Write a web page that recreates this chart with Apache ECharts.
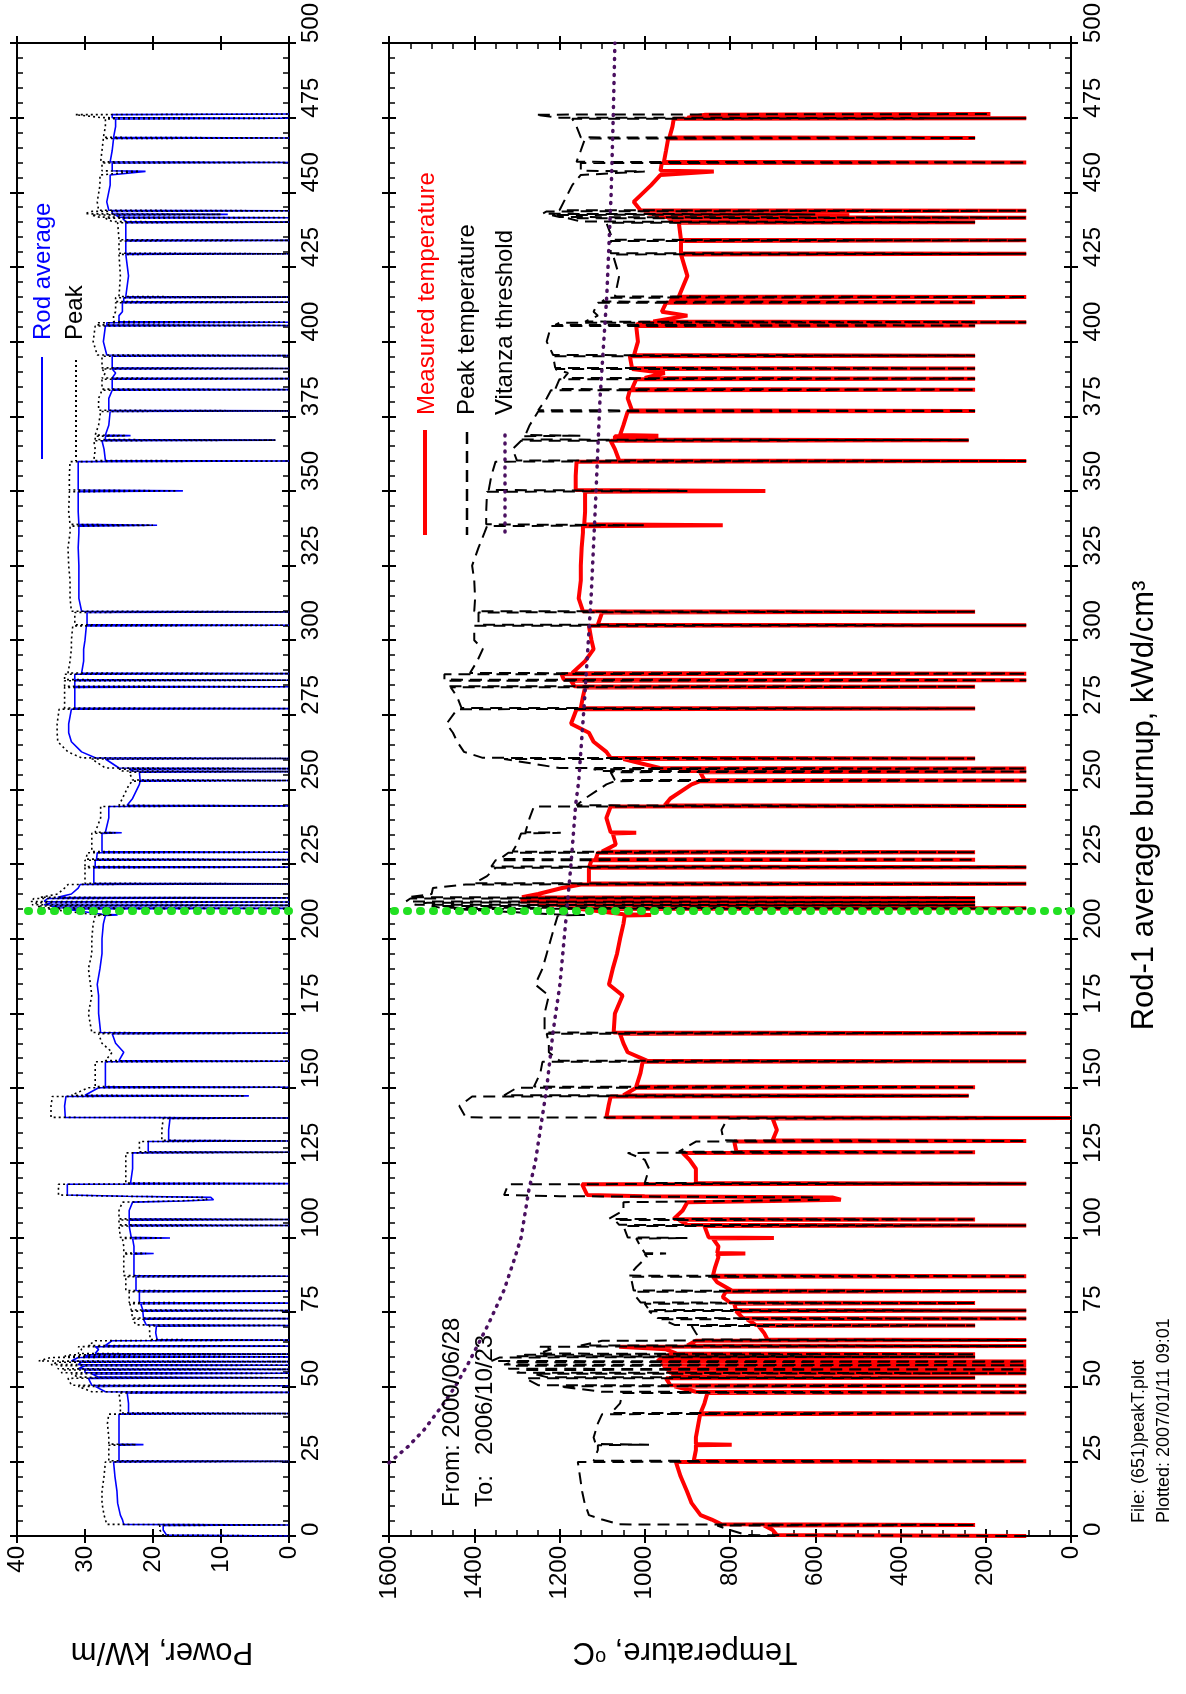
<!DOCTYPE html>
<html>
<head>
<meta charset="utf-8">
<script src="https://cdn.jsdelivr.net/npm/echarts@6/dist/echarts.min.js"></script>
<style>
html,body{margin:0;padding:0;background:#fff;}
#chart{width:1186px;height:1694px;}
</style>
</head>
<body>
<div id="chart"></div>
<script>
// ---- data (burnup in kWd/cm3) ----
const burnup = [
  0, 0.3, 2, 3.5, 3.7, 3.9, 5.5, 7, 11, 15,
  20, 24.8, 25, 25.2, 28.8, 30.4, 30.6, 30.8, 33, 37.7,
  40.8, 41, 41.2, 44.4, 47.9, 48.1, 48.3, 50.1, 50.3, 50.5,
  52.8, 53, 53.2, 54.3, 54.5, 54.7, 55.6, 55.8, 56, 57,
  57.2, 57.4, 58.2, 58.4, 58.6, 59.8, 60, 60.2, 60.7, 60.9,
  61.1, 62.5, 63.4, 63.6, 63.8, 65.4, 65.6, 65.8, 68, 70.3,
  70.5, 70.7, 72.6, 72.8, 73, 75.3, 75.5, 75.7, 77.8, 78,
  78.2, 80, 81.8, 82, 82.2, 85, 86.8, 87, 87.2, 90,
  93.5, 94.4, 94.6, 94.8, 97, 99.6, 99.8, 100, 103.8, 104,
  104.2, 105.8, 106, 106.2, 109, 111.8, 112.2, 112.6, 113.4, 113.8,
  114.2, 117.8, 118, 118.2, 123, 126, 128.3, 128.5, 128.7, 132.1,
  132.3, 132.5, 136, 139.8, 140, 140.2, 144, 147.2, 147.4, 147.6,
  150.1, 150.3, 150.5, 155, 158.8, 159, 159.2, 162, 165, 168.2,
  168.4, 168.6, 175, 181, 184.7, 190, 195, 200, 205, 207.8,
  208, 208.2, 210, 210.2, 210.4, 211, 211.2, 211.4, 212.1, 212.3,
  212.5, 213.5, 213.7, 213.9, 215, 217, 218.2, 218.4, 218.6, 221,
  223.8, 224, 224.2, 226.3, 226.5, 226.7, 228.8, 229, 229.2, 231.6,
  235.3, 235.5, 235.7, 240.5, 244.3, 244.5, 244.7, 247, 251.7, 252.8,
  253, 253.2, 255.8, 256, 256.2, 256.8, 257, 257.2, 260.2, 260.4,
  260.6, 262.6, 266, 269, 272, 276.9, 277.1, 277.3, 281, 284.2,
  284.4, 284.6, 286.4, 286.6, 286.8, 288.6, 288.8, 289, 293, 297,
  300, 304.8, 305, 305.2, 309.3, 309.5, 309.7, 314, 320, 325,
  331, 336, 338.2, 338.5, 338.8, 343, 349.7, 350, 350.3, 355,
  359.8, 360, 360.2, 364, 366.8, 367, 367.2, 368.3, 368.5, 368.7,
  372, 376.6, 376.8, 377, 381, 383.7, 383.9, 384.1, 387.4, 387.6,
  387.8, 389.5, 390.8, 391, 391.2, 395.1, 395.3, 395.5, 400, 405.2,
  405.4, 405.6, 406.3, 406.5, 406.7, 408.7, 410, 413, 413.2, 413.4,
  414.7, 414.9, 415.1, 422, 429.2, 429.4, 429.6, 433.7, 433.9, 434.1,
  439.8, 440, 440.2, 441.3, 441.5, 441.7, 442.4, 442.6, 442.8, 443.6,
  443.8, 444, 446.8, 452.4, 455.8, 457, 457.2, 459.8, 460, 460.2,
  464, 468, 468.2, 468.4, 472, 474.6, 474.8, 475, 476, 476.2
];
// Rod average power, kW/m
const rodAverage = [
  0, 18, 18.5, 18.5, 0, 24.3, 24.5, 24.8, 25.2, 25.3,
  25.6, 25.8, 0, 25, 25, 25, 21.4, 25, 25, 25,
  25, 0, 23.6, 23.6, 23.8, 0, 27, 28.5, 0, 29,
  29.5, 0, 28, 29, 0, 30, 30, 0, 31, 30,
  0, 31, 30.5, 0, 32, 31, 0, 30, 29.5, 0,
  28.5, 28, 28.5, 0, 27, 26, 0, 19.4, 19.6, 19.5,
  0, 21, 21.4, 0, 21.4, 21.5, 0, 21.5, 21.8, 0,
  22, 22, 22, 0, 22.5, 22.5, 22.5, 0, 22.8, 22.8,
  22.8, 22.8, 19.9, 22.8, 22.8, 23, 17.5, 23.2, 23.5, 0,
  23.5, 23.5, 0, 23.5, 23.5, 23, 15.5, 11.1, 11.5, 24,
  32.6, 32.6, 0, 23.3, 23, 23, 23, 0, 20.7, 20.7,
  0, 17.7, 17.7, 17.5, 0, 32.9, 33, 32.8, 5.9, 30,
  28, 0, 27, 27, 27, 0, 25, 24.3, 25.5, 26,
  0, 27.7, 28, 28, 28.2, 27.8, 27.5, 27.5, 27.3, 27,
  25.2, 27.5, 33, 0, 34, 35, 0, 36, 35, 0,
  36, 35.5, 0, 34, 32, 31, 30.7, 0, 28.7, 28.7,
  28.7, 0, 28.5, 28.5, 0, 28.3, 28.2, 0, 27.5, 27.5,
  27.5, 24.6, 27, 26.5, 26.5, 0, 23.8, 23, 22, 21.9,
  0, 21.9, 22, 0, 23, 23.5, 0, 25, 27, 0,
  28.5, 30.5, 32, 32.4, 32.4, 32, 0, 31.5, 31.5, 31.5,
  0, 31.5, 31.5, 0, 31.5, 31.5, 0, 30.5, 30.2, 30.2,
  30, 29.8, 0, 29.7, 29.7, 0, 30.5, 30.9, 30.9, 30.9,
  31, 30.9, 30.9, 19.4, 30.9, 31, 31, 15.6, 31, 31,
  31, 0, 27, 27.2, 27.5, 2, 27, 27, 23.3, 27,
  26.5, 26.3, 0, 26.5, 26.5, 26, 0, 26, 26, 0,
  26, 25.5, 26, 0, 26, 26, 0, 26.8, 27.3, 27,
  0, 26.8, 26.8, 0, 25, 25, 24.5, 24.5, 0, 24.3,
  24.3, 0, 24, 23.6, 24, 0, 24, 24, 0, 24,
  24, 0, 24, 24.5, 0, 25, 25.5, 9, 26, 26,
  0, 26.5, 26.8, 26.3, 26.3, 21.1, 26, 26, 0, 26.3,
  26, 25.8, 0, 25.8, 25.5, 25.5, 0, 26, 26, 0
];
// Peak power, kW/m
const peakPower = [
  0, 18.5, 19, 19, 0, 26.8, 27, 27.2, 27.5, 27.5,
  27.2, 27, 0, 26.5, 26.5, 26.5, 22.5, 26.5, 26.5, 26.7,
  26.5, 0, 24.8, 24.8, 25, 0, 29, 31, 0, 32,
  32.5, 0, 31, 32, 0, 33.5, 33, 0, 34, 33.5,
  0, 35, 34, 0, 36.8, 35, 0, 33, 32, 0,
  31, 30.5, 31, 0, 29.5, 28.5, 0, 20.4, 20.5, 20.5,
  0, 22.5, 23, 0, 23, 23.2, 0, 23.2, 23.4, 0,
  23.5, 23.5, 23.5, 0, 24, 24, 24, 0, 24.3, 24.3,
  24.3, 24.3, 21, 24.3, 24.3, 24.5, 18.5, 24.8, 25, 0,
  25, 25, 0, 25, 25, 24.5, 16.5, 12, 12.5, 25,
  33.9, 33.9, 0, 24, 24, 24, 24, 0, 22, 22,
  0, 18.7, 18.7, 18.5, 0, 35, 35, 34.8, 6.5, 32,
  29.5, 0, 28.5, 28.5, 28.5, 0, 27, 26, 27.5, 28,
  0, 29, 29.5, 29, 29.2, 29.5, 29, 29, 28.8, 28.5,
  26, 29, 35.5, 0, 36.5, 37, 0, 37.8, 37, 0,
  38, 37.5, 0, 36.5, 34, 33, 32.5, 0, 30, 30,
  30, 0, 30, 30, 0, 29.8, 29.7, 0, 29, 29,
  29, 25.5, 28.5, 27.7, 27.7, 0, 25, 24.5, 23.5, 23,
  0, 23, 23.5, 0, 24.5, 25, 0, 27, 29, 0,
  30.5, 32.5, 34, 34.1, 34.1, 33.8, 0, 33, 33, 33,
  0, 33, 33, 0, 33, 33, 0, 32.5, 32.2, 32,
  32, 31.8, 0, 31.5, 31.5, 0, 32, 32.2, 32.2, 32.4,
  32.5, 32.2, 32.2, 20, 32.2, 32.4, 32.3, 16.5, 32.3, 32.3,
  32.2, 0, 28.7, 28.5, 28.7, 2, 28.5, 28.5, 24, 28.5,
  28, 27.7, 0, 28, 28, 27.5, 0, 27.5, 27.5, 0,
  27.5, 27, 27.5, 0, 27.5, 27.5, 0, 28.2, 28.8, 28.5,
  0, 28.2, 28.2, 0, 25.8, 25.8, 25.5, 25.5, 0, 25.5,
  25.5, 0, 25, 24.8, 25, 0, 25, 25, 0, 25,
  25.2, 0, 26, 27, 0, 28, 29, 10, 30, 29,
  0, 28, 28.2, 27.8, 27.8, 22, 27.5, 27.5, 0, 27.7,
  27.5, 27.3, 0, 27.3, 27, 27, 0, 27.5, 31.4, 0
];
// Measured temperature, deg C
const measuredTemp = [
  105, 690, 700, 720, 225, 820, 843, 869, 890, 901,
  916, 927, 105, 885, 880, 880, 796, 880, 880, 874,
  870, 105, 869, 860, 853, 105, 880, 930, 105, 940,
  950, 225, 930, 935, 105, 940, 945, 105, 950, 955,
  105, 960, 955, 105, 970, 960, 225, 950, 940, 225,
  925, 950, 1060, 105, 900, 880, 105, 712, 720, 733,
  225, 740, 760, 105, 770, 786, 105, 786, 790, 225,
  800, 817, 810, 105, 796, 830, 840, 105, 840, 835,
  827, 830, 764, 830, 827, 840, 697, 850, 860, 105,
  900, 920, 225, 932, 911, 900, 700, 540, 560, 1000,
  1135, 1147, 105, 880, 880, 895, 911, 225, 785, 790,
  105, 700, 690, 700, 0, 1090, 1085, 1080, 240, 1050,
  1020, 225, 1020, 1010, 1005, 105, 995, 1040, 1050, 1058,
  105, 1073, 1070, 1052, 1084, 1075, 1065, 1058, 1050, 1047,
  985, 1050, 1150, 105, 1180, 1200, 225, 1250, 1220, 225,
  1290, 1280, 225, 1288, 1250, 1194, 1150, 105, 1131, 1131,
  1131, 105, 1130, 1125, 225, 1115, 1110, 225, 1100, 1068,
  1075, 1020, 1080, 1090, 1080, 105, 953, 940, 890, 870,
  105, 860, 870, 105, 900, 920, 105, 965, 1050, 225,
  1080, 1090, 1120, 1131, 1173, 1160, 225, 1150, 1145, 1140,
  225, 1165, 1173, 105, 1190, 1195, 105, 1170, 1140, 1120,
  1125, 1131, 105, 1110, 1100, 225, 1145, 1155, 1150, 1150,
  1148, 1145, 1145, 817, 1142, 1140, 1140, 717, 1162, 1162,
  1160, 105, 1060, 1070, 1080, 240, 1070, 1070, 968, 1058,
  1050, 1040, 225, 1030, 1040, 1035, 225, 1030, 1020, 225,
  1000, 953, 1030, 225, 1030, 1035, 225, 1025, 1016, 1020,
  225, 1020, 1010, 105, 980, 900, 960, 950, 225, 940,
  935, 105, 920, 900, 915, 105, 915, 915, 105, 915,
  920, 225, 930, 945, 105, 960, 975, 520, 990, 1000,
  105, 1010, 1026, 985, 963, 838, 963, 960, 105, 955,
  950, 945, 225, 942, 935, 932, 105, 900, 858, 189
];
// Peak temperature, deg C
const peakTemp = [
  105, 760, 800, 830, 225, 1060, 1100, 1131, 1141, 1147,
  1152, 1157, 105, 1120, 1110, 1110, 990, 1115, 1120, 1110,
  1100, 105, 1079, 1058, 1052, 105, 1100, 1200, 105, 1250,
  1280, 225, 1230, 1260, 105, 1300, 1280, 105, 1320, 1300,
  105, 1330, 1310, 105, 1360, 1340, 225, 1300, 1280, 225,
  1250, 1220, 1246, 105, 1150, 1100, 105, 870, 880, 890,
  225, 930, 960, 105, 970, 990, 105, 990, 1000, 225,
  1010, 1020, 1020, 105, 1026, 1030, 1035, 105, 1037, 1020,
  995, 1000, 950, 1000, 1010, 1020, 900, 1040, 1050, 105,
  1060, 1070, 225, 1084, 1050, 1050, 800, 590, 600, 1200,
  1330, 1320, 105, 1000, 990, 1000, 1040, 225, 920, 880,
  105, 815, 820, 806, 0, 1420, 1435, 1405, 240, 1330,
  1300, 225, 1260, 1245, 1240, 105, 1200, 1225, 1225, 1230,
  105, 1235, 1235, 1225, 1257, 1240, 1230, 1220, 1210, 1204,
  1140, 1210, 1450, 105, 1480, 1500, 225, 1540, 1510, 225,
  1560, 1550, 225, 1555, 1500, 1497, 1420, 105, 1400, 1370,
  1350, 105, 1360, 1350, 225, 1340, 1320, 225, 1310, 1300,
  1290, 1197, 1280, 1270, 1260, 105, 1160, 1140, 1090, 1070,
  105, 1070, 1080, 105, 1100, 1120, 105, 1200, 1330, 225,
  1380, 1424, 1440, 1450, 1465, 1440, 225, 1430, 1440, 1455,
  225, 1460, 1460, 105, 1470, 1470, 105, 1410, 1393, 1380,
  1400, 1400, 105, 1390, 1390, 225, 1400, 1398, 1400, 1405,
  1390, 1376, 1370, 1000, 1372, 1372, 1370, 900, 1366, 1360,
  1350, 105, 1300, 1310, 1290, 240, 1290, 1290, 1150, 1280,
  1270, 1250, 225, 1250, 1230, 1220, 225, 1210, 1200, 225,
  1190, 1180, 1210, 225, 1210, 1215, 225, 1215, 1230, 1220,
  225, 1210, 1200, 105, 1140, 1110, 1120, 1110, 225, 1100,
  1090, 105, 1070, 1060, 1075, 105, 1080, 1080, 105, 1075,
  1090, 225, 1150, 1180, 105, 1200, 1220, 600, 1240, 1230,
  105, 1200, 1190, 1170, 1150, 1000, 1150, 1150, 105, 1160,
  1150, 1140, 225, 1150, 1160, 1170, 105, 1200, 1257, 189
];
// Vitanza threshold curve
const vitanzaBurnup = [24.5, 30, 35.5, 43.3, 50, 57.8, 65, 71.2, 82.4, 93.5, 100, 115.8, 125, 150, 169, 184.7, 209.4, 225, 245, 252.8, 280.5, 313.9, 347.4, 380.8, 415.5, 449, 475, 500];
const vitanzaTemp  = [1600, 1555, 1518, 1477, 1445, 1414, 1388, 1366, 1330, 1304, 1290, 1272, 1257, 1230, 1215, 1199, 1183, 1173, 1162, 1155, 1141, 1126, 1115, 1105, 1089, 1079, 1074, 1070];
// green marker burnup
const markerBurnup = 209.5;

// ---- chart ----
const FONT = '"Liberation Sans", Arial, Helvetica, sans-serif';
const chart = echarts.init(document.getElementById('chart'), null, {renderer: 'canvas'});

const grids = [
  {left: 17, top: 43, width: 272, height: 1493, containLabel: false, outerBoundsMode: 'none'},
  {left: 389, top: 43, width: 682, height: 1493, containLabel: false, outerBoundsMode: 'none'}
];

const axisLineStyle = {color: '#000', width: 2};

function mkX(g, pos, inner, extra) {
  const isT = g === 1;
  return Object.assign({
    type: 'value', gridIndex: g, position: pos, inverse: true,
    min: 0, max: isT ? 1600 : 40, interval: isT ? 200 : 10,
    splitLine: {show: false},
    axisLine: {show: !inner, onZero: false, lineStyle: axisLineStyle},
    axisTick: {show: true, inside: inner, length: 7, lineStyle: {color: '#000', width: 2}},
    minorTick: {show: inner && isT, splitNumber: 4, length: 6, lineStyle: {color: '#000', width: 1.5}},
    minorSplitLine: {show: false},
    axisLabel: {show: false}
  }, extra || {});
}
function mkY(g, pos, inner, extra) {
  return Object.assign({
    type: 'value', gridIndex: g, position: pos,
    min: 0, max: 500, interval: 25,
    splitLine: {show: false},
    axisLine: {show: !inner, onZero: false, lineStyle: axisLineStyle},
    axisTick: {show: true, inside: inner, length: 7, lineStyle: {color: '#000', width: 2}},
    minorTick: {show: inner, splitNumber: 5, length: 6, lineStyle: {color: '#000', width: 1.5}},
    minorSplitLine: {show: false},
    axisLabel: {show: false}
  }, extra || {});
}
const tickLabel = {show: true, rotate: 90, fontSize: 24, fontFamily: FONT, color: '#000', margin: 10,
  formatter: function (v) { return String(v); }};

const xAxis = [
  mkX(0, 'bottom', false, {axisLabel: tickLabel, name: 'Power, kW/m', nameLocation: 'middle', nameRotate: 180, nameGap: 100,
    nameTextStyle: {fontSize: 31, fontFamily: FONT, color: '#000', padding: [0, 18, 0, 0]}}),
  mkX(0, 'bottom', true),
  mkX(0, 'top', false),
  mkX(0, 'top', true),
  mkX(1, 'bottom', false, {axisLabel: tickLabel, name: 'Temperature, {sup|o}C', nameLocation: 'middle', nameRotate: 180, nameGap: 100,
    nameTextStyle: {fontSize: 31, fontFamily: FONT, color: '#000', padding: [0, 0, 0, 90],
      rich: {sup: {fontSize: 20, fontFamily: FONT, color: '#000', verticalAlign: 'top'}}}}),
  mkX(1, 'bottom', true),
  mkX(1, 'top', false),
  mkX(1, 'top', true)
];
const yLabel = Object.assign({}, tickLabel, {align: 'left'});
const yAxis = [
  mkY(0, 'right', false, {axisLabel: yLabel}),
  mkY(0, 'right', true),
  mkY(0, 'left', false),
  mkY(0, 'left', true),
  mkY(1, 'right', false, {axisLabel: yLabel, name: 'Rod-1 average burnup, kWd/cm³', nameLocation: 'middle', nameRotate: 90, nameGap: 58,
    nameTextStyle: {fontSize: 31, fontFamily: FONT, color: '#000', padding: [0, 32, 0, 0]}}),
  mkY(1, 'right', true),
  mkY(1, 'left', false),
  mkY(1, 'left', true)
];

function pairs(vals, bu) { return bu.map((b, i) => [vals[i], b]); }
const greenMark = {
  silent: true, symbol: 'none', label: {show: false}, animation: false,
  lineStyle: {color: '#22e022', type: [1, 12], cap: 'round', width: 8},
  data: [{yAxis: markerBurnup}]
};

const series = [
  {type: 'line', name: 'Rod average', xAxisIndex: 0, yAxisIndex: 0, data: pairs(rodAverage, burnup),
    symbol: 'none', lineStyle: {color: '#0000ff', width: 1.6}, z: 2},
  {type: 'line', name: 'Peak', xAxisIndex: 0, yAxisIndex: 0, data: pairs(peakPower, burnup),
    symbol: 'none', lineStyle: {color: '#000', width: 1.6, type: [2, 3]}, z: 3, markLine: greenMark},
  {type: 'line', name: 'Measured temperature', xAxisIndex: 4, yAxisIndex: 4, data: pairs(measuredTemp, burnup),
    symbol: 'none', lineStyle: {color: '#ff0000', width: 4}, z: 2},
  {type: 'line', name: 'Peak temperature', xAxisIndex: 4, yAxisIndex: 4, data: pairs(peakTemp, burnup),
    symbol: 'none', lineStyle: {color: '#000', width: 2, type: [12, 7]}, z: 3},
  {type: 'line', name: 'Vitanza threshold', xAxisIndex: 4, yAxisIndex: 4, data: pairs(vitanzaTemp, vitanzaBurnup),
    symbol: 'none', lineStyle: {color: '#4a1060', width: 3.5, type: [1, 7], cap: 'round'}, z: 4, markLine: greenMark}
];

function vText(x, y, text, color, size) {
  return {type: 'text', x: x, y: y, rotation: Math.PI / 2, z: 10,
    style: {text: text, fill: color, font: size + 'px ' + FONT,
      textAlign: 'left', textVerticalAlign: 'middle', align: 'left', verticalAlign: 'middle'}};
}
function vLine(x, y1, y2, color, width, dash, cap) {
  const s = {stroke: color, lineWidth: width};
  if (dash) s.lineDash = dash;
  if (cap) s.lineCap = cap;
  return {type: 'line', z: 10, shape: {x1: x, y1: y1, x2: x, y2: y2}, style: s};
}

const graphic = [
  vLine(42, 357, 459, '#0000ff', 2),
  vText(43, 340, 'Rod average', '#0000ff', 24),
  vLine(76, 360, 461, '#000', 2, [2, 3]),
  vText(75, 340, 'Peak', '#000', 24),
  vLine(425, 430, 535, '#ff0000', 4),
  vText(427, 415, 'Measured temperature', '#ff0000', 24),
  vLine(467, 432, 535, '#000', 2.5, [12, 7]),
  vText(467, 415, 'Peak temperature', '#000', 24),
  vLine(505, 435, 535, '#4a1060', 3.5, [1, 7], 'round'),
  vText(505, 415, 'Vitanza threshold', '#000', 24),
  vText(452, 1507, 'From: 2000/06/28', '#000', 24),
  vText(485, 1507, 'To:   2006/10/23', '#000', 24),
  vText(1139, 1523, 'File: (651)peakT.plot', '#000', 18),
  vText(1164, 1523, 'Plotted: 2007/01/11 09:01', '#000', 18)
];

chart.setOption({
  animation: false,
  backgroundColor: '#ffffff',
  textStyle: {fontFamily: FONT},
  grid: grids,
  xAxis: xAxis,
  yAxis: yAxis,
  series: series,
  graphic: graphic
});
</script>
</body>
</html>
